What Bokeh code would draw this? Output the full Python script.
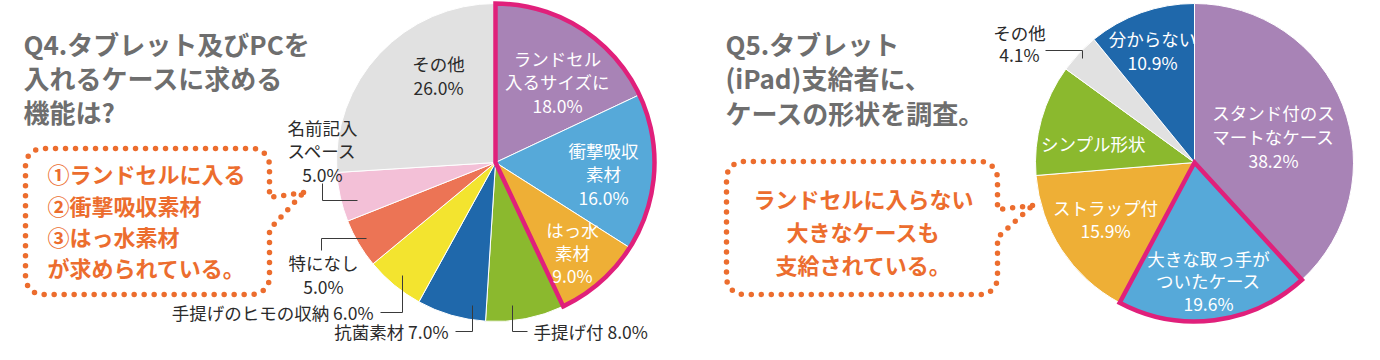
import math
from bokeh.plotting import figure
from bokeh.models import Range1d
from bokeh.core.properties import value
from bokeh.embed import file_html
from bokeh.resources import INLINE

# ---------------- data ----------------
q4_categories = ["ランドセル\n入るサイズに", "衝撃吸収\n素材", "はっ水\n素材", "手提げ付",
                 "抗菌素材", "手提げのヒモの収納", "特になし", "名前記入\nスペース", "その他"]
q4_values = [18.0, 16.0, 9.0, 8.0, 7.0, 6.0, 5.0, 5.0, 26.0]
q4_highlight = [0, 1, 2]

q5_categories = ["スタンド付のス\nマートなケース", "大きな取っ手が\nついたケース", "ストラップ付",
                 "シンプル形状", "その他", "分からない"]
q5_values = [38.2, 19.6, 15.9, 11.3, 4.1, 10.9]
q5_highlight = [1]

q4_title = ["Q4.タブレット及びPCを", "入れるケースに求める", "機能は?"]
q4_note = ["①ランドセルに入る", "②衝撃吸収素材", "③はっ水素材", "が求められている。"]
q5_title = ["Q5.タブレット", "(iPad)支給者に、", "ケースの形状を調査。"]
q5_note = ["ランドセルに入らない", "大きなケースも", "支給されている。"]

# ---------------- styles / layout ----------------
FONT = "Noto Sans CJK JP"
WHITE = "#FFFFFF"
DARK = "#2B2B2B"
GRAY = "#6E6E6E"
ORANGE = "#EC6D2E"
MAGENTA = "#E0207B"

q4_colors = ["#A883B6", "#56A9D9", "#EEAF36", "#8BB92E", "#1F68AB",
             "#F3E42F", "#EC7455", "#F3C0D7", "#E1E1E1"]
q5_colors = ["#A883B6", "#56A9D9", "#EEAF36", "#8BB92E", "#E1E1E1", "#1F68AB"]

PIE_R = 159
q4_center = (495, 162)
q5_center = (1194, 162)

# label layout per slice: (x, y, mode, align, color, line spacing)   (pixel coords)
q4_label_layout = [
    (557, 81, "stack", "center", WHITE, 23.5),
    (603, 173, "stack", "center", WHITE, 23.5),
    (572, 252, "stack", "center", WHITE, 23.0),
    (533, 331, "inline", "left", DARK, 0),
    (448, 331, "inline", "right", DARK, 0),
    (373, 312, "inline", "right", DARK, 0),
    (323, 274, "stack", "center", DARK, 24.0),
    (322, 150, "stack", "center", DARK, 23.5),
    (438, 75, "stack", "center", DARK, 24.0),
]
q5_label_layout = [
    (1273, 136, "stack", "center", WHITE, 24.0),
    (1208, 280, "stack", "center", WHITE, 22.5),
    (1105, 218, "stack", "center", WHITE, 23.0),
    (1093, 143, "name", "center", WHITE, 0),
    (1019, 43, "stack", "center", DARK, 21.5),
    (1152, 50, "stack", "center", WHITE, 24.0),
]
leaders = [
    [(322, 183), (322, 200), (357, 200)],
    [(321, 250), (321, 238), (366, 238)],
    [(380, 312), (402, 312), (402, 275)],
    [(455, 331), (472, 331), (472, 305)],
    [(512, 305), (512, 331), (527, 331)],
    [(1045, 50), (1082, 50), (1082, 58)],
]

W, H = 1364, 344
p = figure(width=W, height=H, output_backend="svg", toolbar_location=None,
           x_range=Range1d(0, W), y_range=Range1d(-H, 0),
           x_axis_location=None, y_axis_location=None, min_border=0,
           outline_line_color=None, background_fill_color="white")
p.grid.visible = False


def Y(v):
    return -v


def draw_pie(center, values, colors, highlight):
    total = sum(values)
    cum = [0.0]
    for v in values:
        cum.append(cum[-1] + v / total)
    starts = [math.pi / 2 - 2 * math.pi * cum[i + 1] for i in range(len(values))]
    ends = [math.pi / 2 - 2 * math.pi * cum[i] for i in range(len(values))]
    p.wedge(x=[center[0]] * len(values), y=[Y(center[1])] * len(values), radius=PIE_R,
            start_angle=starts, end_angle=ends, fill_color=colors,
            line_color="white", line_width=1)
    h0, h1 = min(highlight), max(highlight)
    p.wedge(x=[center[0]], y=[Y(center[1])], radius=PIE_R,
            start_angle=[starts[h1]], end_angle=[ends[h0]],
            fill_alpha=0, line_color=MAGENTA, line_width=4.5, line_join="miter")


draw_pie(q4_center, q4_values, q4_colors, q4_highlight)
draw_pie(q5_center, q5_values, q5_colors, q5_highlight)

# leader lines
for pts in leaders:
    p.line([a for a, b in pts], [Y(b) for a, b in pts], line_color="#3A3A3A", line_width=1)


# dotted speech boxes
def box_path(x0, y0, x1, y1, r, t_top, t_bot, tip):
    pts = [tip, (x1, t_top), (x1, y0 + r)]

    def arc(cx, cy, a0, a1, n=8):
        for k in range(1, n + 1):
            t = a0 + (a1 - a0) * k / n
            pts.append((cx + r * math.cos(t), cy + r * math.sin(t)))

    arc(x1 - r, y0 + r, 0, -math.pi / 2)
    pts.append((x0 + r, y0))
    arc(x0 + r, y0 + r, -math.pi / 2, -math.pi)
    pts.append((x0, y1 - r))
    arc(x0 + r, y1 - r, math.pi, math.pi / 2)
    pts.append((x1 - r, y1))
    arc(x1 - r, y1 - r, math.pi / 2, 0)
    pts.append((x1, t_bot))
    pts.append(tip)
    return pts


for bp in [box_path(25, 148, 269, 294, 17, 197, 229, (303, 192)),
           box_path(726, 161, 997, 294, 17, 209, 237, (1032, 205))]:
    p.line([a for a, b in bp], [Y(b) for a, b in bp], line_color=ORANGE, line_width=5.5,
           line_dash="0 10", line_cap="round", line_join="round")


# texts
def text(xs, ys, ts, size, color, align, bold=False):
    p.text(x=xs, y=[Y(v) for v in ys], text=ts, text_font=value(FONT),
           text_font_size=size, text_color=color, text_align=align,
           text_baseline="middle", text_font_style="bold" if bold else "normal")


text([23] * 3, [43, 77, 111], q4_title, "26px", GRAY, "left", True)
text([725] * 3, [43, 77, 112], q5_title, "26px", GRAY, "left", True)
text([47] * 4, [172, 204, 235, 266], q4_note, "22px", ORANGE, "left", True)
text([863] * 3, [197, 230, 263], q5_note, "22px", ORANGE, "center", True)


def label_lines(cat, val, mode):
    if mode == "stack":
        return cat.split("\n") + [f"{val:.1f}%"]
    if mode == "inline":
        return [f"{cat} {val:.1f}%"]
    return cat.split("\n")


for cats, vals, layout in [(q4_categories, q4_values, q4_label_layout),
                           (q5_categories, q5_values, q5_label_layout)]:
    for cat, val, (x, y, mode, align, color, sp) in zip(cats, vals, layout):
        lines = label_lines(cat, val, mode)
        n = len(lines)
        ys = [y + (i - (n - 1) / 2) * sp for i in range(n)]
        text([x] * n, ys, lines, "17.5px", color, align)

open("out.html", "w").write(file_html(p, INLINE))
